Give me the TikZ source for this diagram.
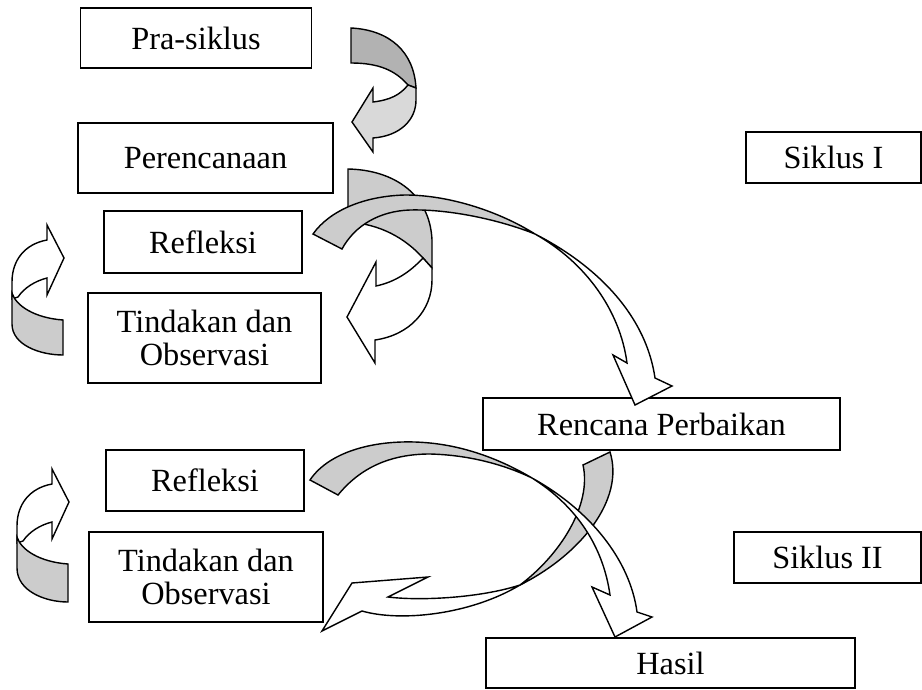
\documentclass[tikz,border=0pt]{standalone}
\usepackage{fontspec}
\setmainfont{Liberation Serif}
\usepackage{tikz}
\definecolor{ribDark}{HTML}{B2B2B2}
\definecolor{ribLight}{HTML}{D9D9D9}
\definecolor{ribGray}{HTML}{CCCCCC}

\begin{document}
\begin{tikzpicture}[
  x=0.02cm, y=-0.02cm,
  font=\fontsize{18.4}{19}\selectfont,
  box/.style={draw, line width=0.8pt, inner sep=0pt, align=center},
  ribbon/.style={draw, line width=0.8pt}
]
\useasboundingbox (0,0) rectangle (922,689);

% Boxes
\node[box, minimum width=4.62cm, minimum height=1.20cm] (pra) at (196,38) {Pra-siklus};
\node[box, minimum width=5.10cm, minimum height=1.40cm] (plan) at (205.5,158) {Perencanaan};
\node[box, minimum width=3.96cm, minimum height=1.24cm] (reflA) at (203,242) {Refleksi};
\node[box, minimum width=4.66cm, minimum height=1.80cm] (actA) at (204.5,338) {Tindakan dan\\Observasi};
\node[box, minimum width=3.50cm, minimum height=1.02cm] (cycA) at (833.5,157.5) {Siklus I};
\node[box, minimum width=7.14cm, minimum height=1.04cm] (fix) at (661.5,424) {Rencana Perbaikan};
\node[box, minimum width=3.96cm, minimum height=1.22cm] (reflB) at (205,480.5) {Refleksi};
\node[box, minimum width=4.68cm, minimum height=1.80cm] (actB) at (206,577) {Tindakan dan\\Observasi};
\node[box, minimum width=3.74cm, minimum height=1.02cm] (cycB) at (827.5,557.5) {Siklus II};
\node[box, minimum width=7.38cm, minimum height=1.00cm] (hasil) at (670.5,663) {Hasil};

% Pra-siklus to Perencanaan
\draw[ribbon, fill=ribDark] (351,28) .. controls (390,30) and (414,52) .. (416,88) -- (408,85) .. controls (395,70) and (378,63) .. (351,63) -- cycle;
\draw[ribbon, fill=ribLight] (408,85) .. controls (400,95) and (390,100) .. (373,102) -- (373,88) -- (352,122) -- (373,152) -- (373,138) .. controls (400,136) and (416,120) .. (416,100) -- (416,88) -- cycle;

% Loop beside Perencanaan
\draw[ribbon, fill=ribGray] (348,169) .. controls (395,170) and (430,195) .. (432,240) -- (432,268) -- (423,258) .. controls (405,238) and (380,224) .. (348,222) -- cycle;
\draw[ribbon, fill=white] (423,258) .. controls (410,272) and (395,282) .. (376,286) -- (376,262) -- (347,317) -- (375,363) -- (375,340) .. controls (410,335) and (432,310) .. (432,280) -- (432,268) -- cycle;

% Refleksi to Rencana Perbaikan
\draw[ribbon, fill=ribGray] (313,234) .. controls (330,210) and (365,196) .. (405,195) .. controls (450,195) and (500,212) .. (535,234) .. controls (500,220) and (450,209) .. (410,210) .. controls (380,211) and (355,225) .. (342,249) -- cycle;
\draw[ribbon, fill=white] (535,234) .. controls (590,262) and (645,310) .. (655,378) -- (672,386) -- (635,405) -- (613,355) -- (627,363) .. controls (620,310) and (585,262) .. (535,234) -- cycle;

% Loops on the left
\draw[ribbon, fill=white] (47,278) .. controls (35,281) and (24,288) .. (18,297) -- (12,299) -- (12,282) .. controls (12,260) and (25,244) .. (47,240) -- (47,225) -- (64,258) -- (47,295) -- cycle;
\draw[ribbon, fill=ribGray] (12,293) .. controls (16,306) and (35,318) .. (63,320) -- (63,355) .. controls (40,355) and (12,345) .. (12,324) -- cycle;
\begin{scope}[shift={(5,244)}]
\draw[ribbon, fill=white] (47,278) .. controls (35,281) and (24,288) .. (18,297) -- (12,299) -- (12,282) .. controls (12,260) and (25,244) .. (47,240) -- (47,225) -- (64,258) -- (47,295) -- cycle;
\draw[ribbon, fill=ribGray] (12,293) .. controls (16,306) and (35,318) .. (63,320) -- (63,358) .. controls (40,358) and (12,347) .. (12,324) -- cycle;
\end{scope}

% Rencana Perbaikan to Tindakan dan Observasi
\draw[ribbon, fill=ribGray] (583,465) -- (610,452) .. controls (625,500) and (580,555) .. (520,585) .. controls (560,555) and (592,505) .. (583,465) -- cycle;
\draw[ribbon, fill=white] (520,585) .. controls (480,598) and (420,601) .. (388,597) -- (428,577) -- (352,583) -- (322,631) -- (362,611) .. controls (400,622) and (470,615) .. (520,585) -- cycle;

% Refleksi to Hasil
\draw[ribbon, fill=ribGray] (310,480) .. controls (330,450) and (380,438) .. (430,443) .. controls (470,447) and (505,462) .. (532,478) .. controls (505,465) and (470,455) .. (430,454) .. controls (390,454) and (360,468) .. (338,495) -- cycle;
\draw[ribbon, fill=white] (532,478) .. controls (575,505) and (603,545) .. (610,595) -- (592,587) -- (615,637) -- (652,617) -- (637,612) .. controls (630,560) and (590,510) .. (532,478) -- cycle;

\end{tikzpicture}
\end{document}
